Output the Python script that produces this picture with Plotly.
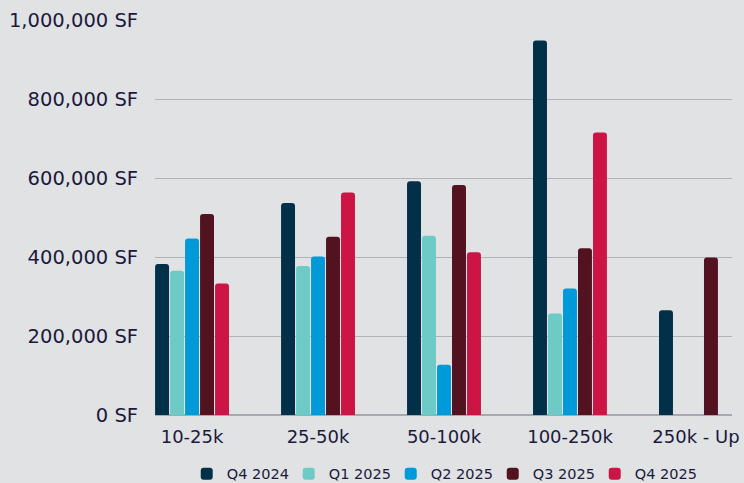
import plotly.graph_objects as go

categories = ["10-25k", "25-50k", "50-100k", "100-250k", "250k - Up"]
q4_2024 = [382000, 537000, 592000, 948000, 265000]
q1_2025 = [365000, 377000, 454000, 257000, None]
q2_2025 = [447000, 401000, 127000, 320000, None]
q3_2025 = [509000, 451000, 582000, 422000, 399000]
q4_2025 = [333000, 563000, 412000, 715000, None]

series = [
    ("Q4 2024", q4_2024, "#023048"),
    ("Q1 2025", q1_2025, "#6ecac7"),
    ("Q2 2025", q2_2025, "#009ad8"),
    ("Q3 2025", q3_2025, "#52121f"),
    ("Q4 2025", q4_2025, "#cd1545"),
]

tick_vals = [0, 200000, 400000, 600000, 800000, 1000000]
tick_text = ["0 SF", "200,000 SF", "400,000 SF", "600,000 SF", "800,000 SF", "1,000,000 SF"]

fig = go.Figure()
for name, vals, color in series:
    fig.add_trace(go.Bar(
        x=categories, y=vals, name=name,
        marker=dict(color=color, cornerradius=3, line=dict(width=0)),
    ))

font_color = "#1b1a3c"
fig.update_layout(
    width=744, height=483,
    paper_bgcolor="#e1e2e4", plot_bgcolor="#e1e2e4",
    margin=dict(l=155, r=12, t=20, b=68, autoexpand=False),
    barmode="group", bargap=0.405, bargroupgap=0.07,
    font=dict(family="DejaVu Sans, sans-serif", color=font_color),
    xaxis=dict(
        range=[-0.294, 4.286], showgrid=False, tickfont=dict(size=18),
        ticks="", showline=False, ticklabelstandoff=9,
    ),
    yaxis=dict(
        range=[0, 1000000], tickvals=tick_vals, ticktext=tick_text,
        tickfont=dict(size=19.5), gridcolor="#b3b3bb", gridwidth=1.2,
        zeroline=True, zerolinecolor="#a8a8b0", zerolinewidth=1.5,
        ticks="", ticklabelstandoff=16,
    ),
    legend=dict(
        orientation="h", x=0.055, xanchor="left", y=-0.149, yanchor="middle",
        font=dict(size=14.5), entrywidth=57, entrywidthmode="pixels",
        itemwidth=30, bgcolor="rgba(0,0,0,0)",
    ),
    showlegend=True,
)

fig.write_html("out.html")
